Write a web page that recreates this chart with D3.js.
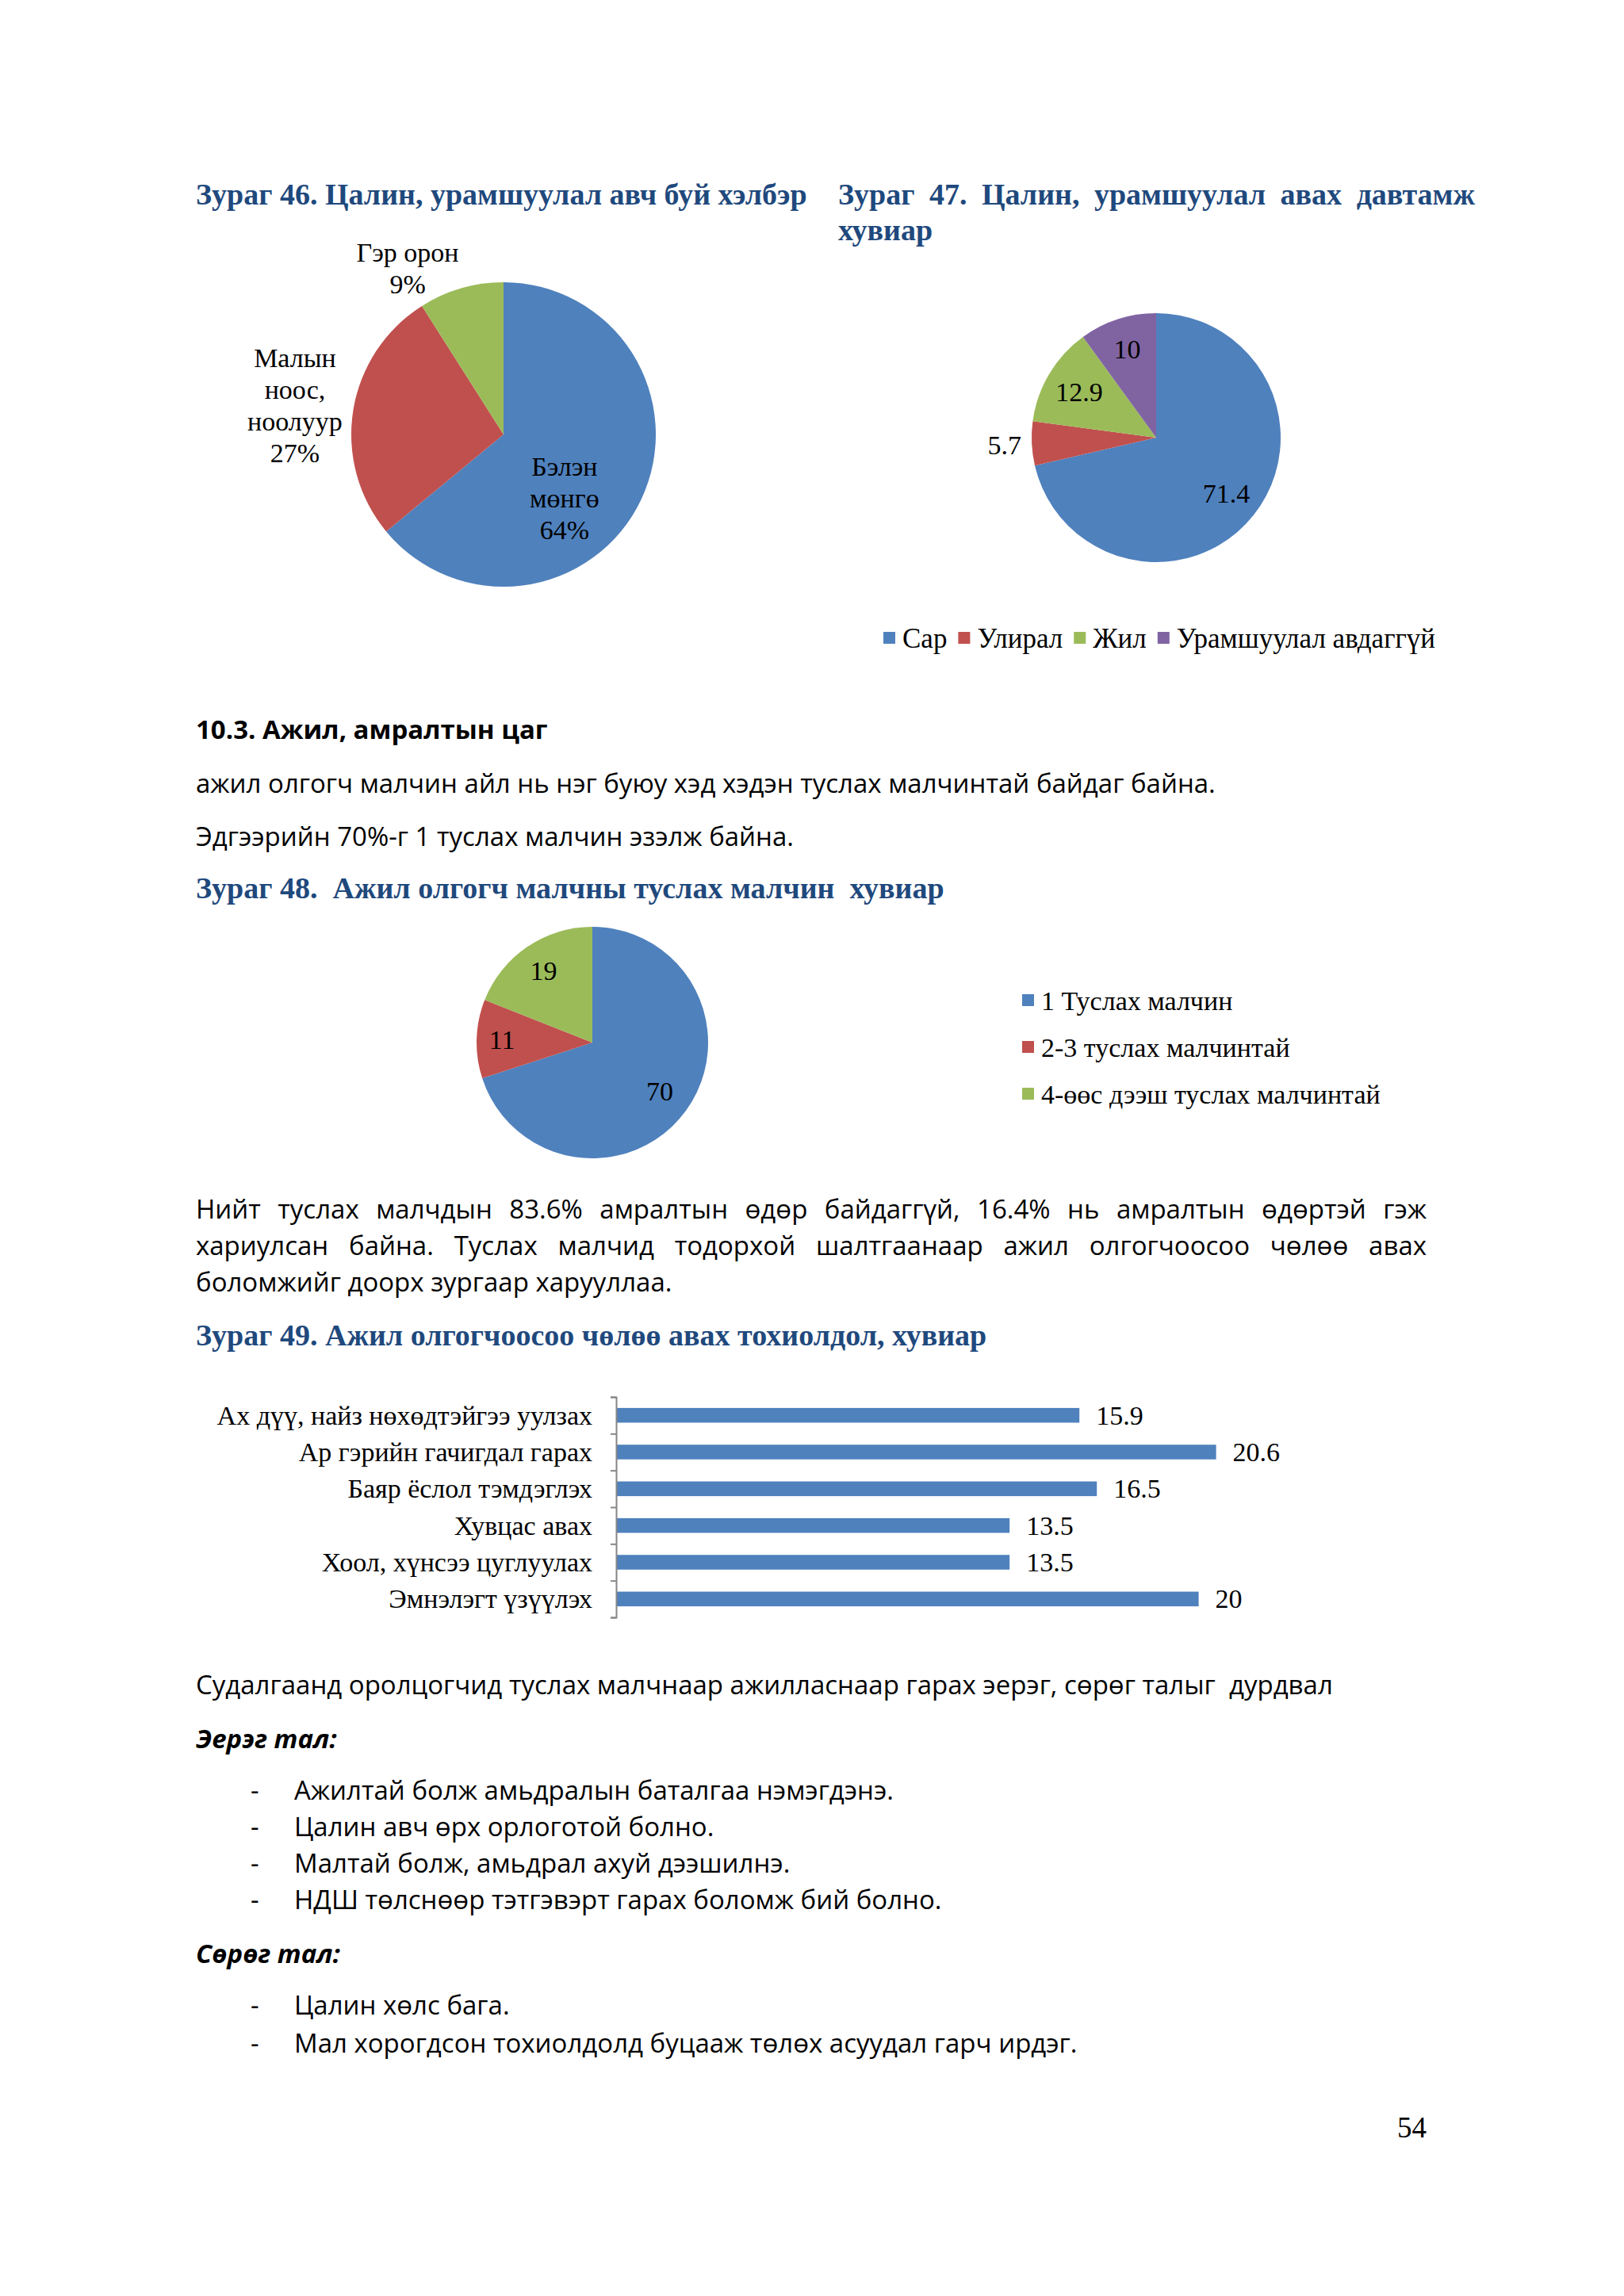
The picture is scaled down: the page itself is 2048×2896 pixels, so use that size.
<!DOCTYPE html>
<html>
<head>
<meta charset="utf-8">
<script src="https://cdn.jsdelivr.net/npm/d3@7"></script>
<style>
  body { margin: 0; background: #fff; }
  svg { display: block; }
  text { white-space: pre; }
</style>
</head>
<body>
<div class="page"></div>
<script>
// Figure 46 - form of payment
const pie46Names = ['Бэлэн мөнгө', 'Малын ноос, ноолуур', 'Гэр орон'];
const pie46Lines = [['Бэлэн', 'мөнгө', '64%'], ['Малын', 'ноос,', 'ноолуур', '27%'], ['Гэр орон', '9%']];
const pie46Values = [64, 27, 9];

// Figure 47 - frequency of payment
const pie47Cats = ['Сар', 'Улирал', 'Жил', 'Урамшуулал авдаггүй'];
const pie47Values = [71.4, 5.7, 12.9, 10];

// Figure 48 - number of helpers
const pie48Cats = ['1 Туслах малчин', '2-3 туслах малчинтай', '4-өөс дээш туслах малчинтай'];
const pie48Values = [70, 11, 19];

// Figure 49 - reasons for leave
const barCats = ['Ах дүү, найз нөхөдтэйгээ уулзах', 'Ар гэрийн гачигдал гарах', 'Баяр ёслол тэмдэглэх',
  'Хувцас авах', 'Хоол, хүнсээ цуглуулах', 'Эмнэлэгт үзүүлэх'];
const barValues = [15.9, 20.6, 16.5, 13.5, 13.5, 20];

const colors = ['#4F81BD', '#C0504D', '#9BBB59', '#8064A2'];
const titleColor = '#1F497D';
const serif = '"Liberation Serif", "Times New Roman", serif';
const sans = '"Open Sans", "Noto Sans", sans-serif';

const width = 2048, height = 2896;
const svg = d3.select('.page')
  .append('svg')
  .attr('width', width)
  .attr('height', height);
svg.append('rect').attr('width', width).attr('height', height).attr('fill', '#fff');

function txt(x, y, s, opt) {
  opt = opt || {};
  return svg.append('text')
    .attr('x', x)
    .attr('y', y)
    .attr('dominant-baseline', 'central')
    .attr('text-anchor', opt.anchor || 'start')
    .attr('font-family', opt.font || sans)
    .attr('font-size', opt.size || 33)
    .attr('font-weight', opt.weight || 'normal')
    .attr('font-style', opt.style || 'normal')
    .attr('fill', opt.fill || '#000')
    .text(s);
}

// spreads the words of a line between x0 and x1
function justify(x0, x1, y, s, opt) {
  const words = s.split(/\s+/);
  const g = words.map(w => txt(0, y, w, opt));
  const widths = g.map(t => t.node().getComputedTextLength());
  const gap = (x1 - x0 - d3.sum(widths)) / (words.length - 1);
  let x = x0;
  g.forEach((t, i) => { t.attr('x', x); x += widths[i] + gap; });
}

// ---------- titles / text ----------
const titleOpt = { font: serif, size: 38, weight: 'bold', fill: titleColor };
txt(247, 245, 'Зураг 46. Цалин, урамшуулал авч буй хэлбэр', titleOpt);
justify(1057, 1860, 245, 'Зураг 47. Цалин, урамшуулал авах давтамж', titleOpt);
txt(1057, 290, 'хувиар', titleOpt);

txt(247, 919, '10.3. Ажил, амралтын цаг', { weight: 'bold' });
txt(247, 987, 'ажил олгогч малчин айл нь нэг буюу хэд хэдэн туслах малчинтай байдаг байна.');
txt(247, 1054, 'Эдгээрийн 70%-г 1 туслах малчин эзэлж байна.');
txt(247, 1120, 'Зураг 48.  Ажил олгогч малчны туслах малчин  хувиар', titleOpt);

justify(247, 1799, 1524, 'Нийт туслах малчдын 83.6% амралтын өдөр байдаггүй, 16.4% нь амралтын өдөртэй гэж');
justify(247, 1799, 1570, 'хариулсан байна. Туслах малчид тодорхой шалтгаанаар ажил олгогчоосоо чөлөө авах');
txt(247, 1616, 'боломжийг доорх зургаар харууллаа.');
txt(247, 1684, 'Зураг 49. Ажил олгогчоосоо чөлөө авах тохиолдол, хувиар', titleOpt);

txt(247, 2124, 'Судалгаанд оролцогчид туслах малчнаар ажилласнаар гарах эерэг, сөрөг талыг  дурдвал');
txt(247, 2192, 'Эерэг тал:', { weight: 'bold', style: 'italic' });
const plusItems = ['Ажилтай болж амьдралын баталгаа нэмэгдэнэ.', 'Цалин авч өрх орлоготой болно.',
  'Малтай болж, амьдрал ахуй дээшилнэ.', 'НДШ төлснөөр тэтгэвэрт гарах боломж бий болно.'];
plusItems.forEach((s, i) => {
  txt(316, 2257 + i * 46, '-');
  txt(371, 2257 + i * 46, s);
});
txt(247, 2463, 'Сөрөг тал:', { weight: 'bold', style: 'italic' });
const minusItems = ['Цалин хөлс бага.', 'Мал хорогдсон тохиолдолд буцааж төлөх асуудал гарч ирдэг.'];
minusItems.forEach((s, i) => {
  txt(316, 2528 + i * 48, '-');
  txt(371, 2528 + i * 48, s);
});
txt(1799, 2683, '54', { font: serif, size: 37, anchor: 'end' });

// ---------- pies ----------
const pie = d3.pie().sort(null).value(d => d);
const labOpt = { font: serif, size: 34, anchor: 'middle' };

function drawPie(values, cx, cy, r) {
  const arcs = pie(values);
  svg.append('g')
    .attr('transform', `translate(${cx},${cy})`)
    .selectAll('path')
    .data(arcs)
    .join('path')
    .attr('d', d3.arc().innerRadius(0).outerRadius(r))
    .attr('fill', (d, i) => colors[i]);
  return arcs;
}

// pie 46, labels hold several lines
const p46 = { cx: 635, cy: 548, r: 192 };
drawPie(pie46Values, p46.cx, p46.cy, p46.r);
const lab46 = [[0.40, 0.42], [-1.37, -0.19], [-0.63, -1.09]];
pie46Lines.forEach((lines, i) => {
  const lx = p46.cx + lab46[i][0] * p46.r;
  const ly = p46.cy + lab46[i][1] * p46.r - (lines.length - 1) * 20;
  lines.forEach((s, j) => txt(lx, ly + j * 40, s, labOpt));
});

// pie 47
const p47 = { cx: 1458, cy: 552, r: 157 };
const arcs47 = drawPie(pie47Values, p47.cx, p47.cy, p47.r);
const fac47 = [0.72, 1.22, 0.72, 0.75];
arcs47.forEach((d, i) => {
  const a = (d.startAngle + d.endAngle) / 2, rr = fac47[i] * p47.r;
  txt(p47.cx + Math.sin(a) * rr, p47.cy - Math.cos(a) * rr, pie47Values[i], labOpt);
});
// legend 47 in one row
let lx = 1114;
pie47Cats.forEach((c, i) => {
  svg.append('rect').attr('x', lx).attr('y', 797).attr('width', 15).attr('height', 15).attr('fill', colors[i]);
  const t = txt(lx + 24, 805, c, { font: serif, size: 35 });
  lx += 24 + t.node().getComputedTextLength() + 14;
});

// pie 48
const p48 = { cx: 747, cy: 1315, r: 146 };
const arcs48 = drawPie(pie48Values, p48.cx, p48.cy, p48.r);
const fac48 = [0.72, 0.78, 0.75];
arcs48.forEach((d, i) => {
  const a = (d.startAngle + d.endAngle) / 2, rr = fac48[i] * p48.r;
  txt(p48.cx + Math.sin(a) * rr, p48.cy - Math.cos(a) * rr, pie48Values[i], labOpt);
});
pie48Cats.forEach((c, i) => {
  const yy = 1262 + i * 59;
  svg.append('rect').attr('x', 1289).attr('y', yy - 8).attr('width', 15).attr('height', 15).attr('fill', colors[i]);
  txt(1313, yy, c, { font: serif, size: 34 });
});

// ---------- bar chart ----------
const barTop = 1762, barBottom = 2040, barLeft = 777;
const x = d3.scaleLinear().domain([0, 25]).range([barLeft, 1694]);
const y = d3.scaleBand().domain(barCats).range([barTop, barBottom]).paddingInner(0.6).paddingOuter(0.3);

svg.selectAll('.bar')
  .data(barValues)
  .join('rect')
  .attr('class', 'bar')
  .attr('x', x(0) + 1)
  .attr('y', (d, i) => y(barCats[i]))
  .attr('width', d => x(d) - x(0))
  .attr('height', y.bandwidth())
  .attr('fill', colors[0]);

svg.selectAll('.val')
  .data(barValues)
  .join('text')
  .attr('class', 'val')
  .attr('x', d => x(d) + 22)
  .attr('y', (d, i) => y(barCats[i]) + y.bandwidth() / 2)
  .attr('dominant-baseline', 'central')
  .attr('font-family', serif)
  .attr('font-size', 34)
  .text(d => d);

// category axis with ticks on band edges
const edge = d3.scaleLinear().domain([0, barCats.length]).range([barTop, barBottom]);
const ax = svg.append('g')
  .attr('transform', `translate(${barLeft},0)`)
  .call(d3.axisLeft(edge).ticks(barCats.length).tickFormat('').tickSize(7));
ax.selectAll('path, line').attr('stroke', '#868686').attr('stroke-width', 2);

svg.selectAll('.cat')
  .data(barCats)
  .join('text')
  .attr('class', 'cat')
  .attr('x', barLeft - 30)
  .attr('y', d => y(d) + y.bandwidth() / 2)
  .attr('dominant-baseline', 'central')
  .attr('text-anchor', 'end')
  .attr('font-family', serif)
  .attr('font-size', 34)
  .text(d => d);
</script>
</body>
</html>
